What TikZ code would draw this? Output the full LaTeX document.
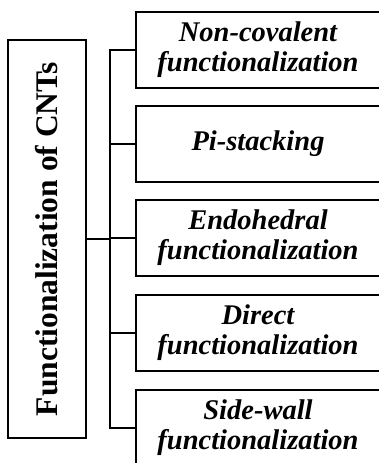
\documentclass[tikz,border=0pt]{standalone}
\usepackage{fontspec}
\setmainfont{Liberation Serif}
\begin{document}
\begin{tikzpicture}[x=1pt,y=1pt,
  line width=2pt,
  catbox/.style={draw, minimum width=245pt, minimum height=76pt, inner sep=0pt, align=center,
    font=\fontsize{28.5}{30}\selectfont\bfseries\itshape},
  rootbox/.style={draw, minimum width=78pt, minimum height=398pt, inner sep=0pt,
    font=\fontsize{31.5}{33}\selectfont\bfseries}]
\useasboundingbox (0,0) rectangle (379,463);
\clip (0,0) rectangle (379,463);
\node[rootbox] (root) at (47,224) {\rotatebox{90}{Functionalization of CNTs}};
\node[catbox] (b1) at (258,413) {Non-covalent\\functionalization};
\node[catbox] (b2) at (258,319) {Pi-stacking};
\node[catbox] (b3) at (258,225) {Endohedral\\functionalization};
\node[catbox] (b4) at (258,130) {Direct\\functionalization};
\node[catbox] (b5) at (258,35) {Side-wall\\functionalization};
\coordinate (spine) at (110,0);
\draw (b1.west) -- (b1.west -| spine) -- (b5.west -| spine) -- (b5.west);
\draw (b2.west) -- (b2.west -| spine);
\draw (b3.west) -- (b3.west -| spine);
\draw (b4.west) -- (b4.west -| spine);
\draw (root.east) -- (root.east -| spine);
\end{tikzpicture}
\end{document}
